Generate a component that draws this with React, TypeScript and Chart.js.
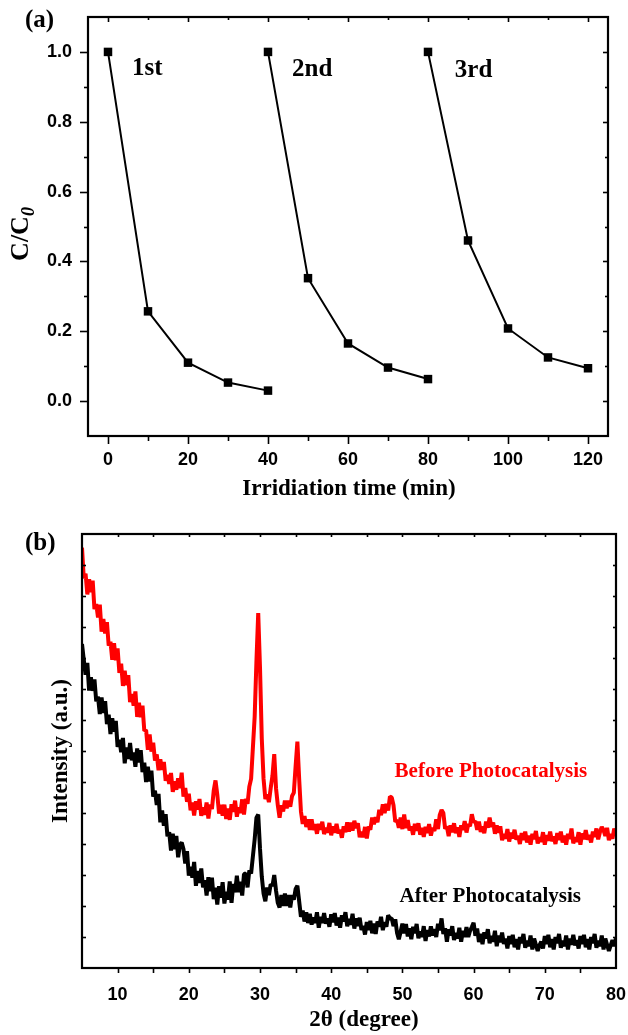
import React, { useEffect, useRef } from "react";
import { Chart, registerables } from "chart.js";
Chart.register(...registerables);

// ---------- Panel (a): photocatalytic cycles ----------
const cycleTime1 = [0, 10, 20, 30, 40];
const cycleValues1 = [1.0, 0.257, 0.11, 0.053, 0.03];
const cycleTime2 = [40, 50, 60, 70, 80];
const cycleValues2 = [1.0, 0.352, 0.165, 0.096, 0.063];
const cycleTime3 = [80, 90, 100, 110, 120];
const cycleValues3 = [1.0, 0.46, 0.208, 0.125, 0.094];
const cycleLabels = ["1st", "2nd", "3rd"];
const cycleLabelX = [6.0, 46.0, 86.7];
const cycleLabelY = [0.935, 0.93, 0.928];
const xTicksA = [0, 20, 40, 60, 80, 100, 120];
const yTicksA = [0, 0.2, 0.4, 0.6, 0.8, 1.0];

// ---------- Panel (b): XRD patterns ----------
const twoTheta = [
  5, 5.25, 5.5, 5.75, 6, 6.25, 6.5, 6.75, 7, 7.25, 7.5, 7.75, 8, 8.25, 8.5, 8.75, 9, 9.25, 9.5, 9.75,
  10, 10.25, 10.5, 10.75, 11, 11.25, 11.5, 11.75, 12, 12.25, 12.5, 12.75, 13, 13.25, 13.5, 13.75, 14, 14.25, 14.5, 14.75,
  15, 15.25, 15.5, 15.75, 16, 16.25, 16.5, 16.75, 17, 17.25, 17.5, 17.75, 18, 18.25, 18.5, 18.75, 19, 19.25, 19.5, 19.75,
  20, 20.25, 20.5, 20.75, 21, 21.25, 21.5, 21.75, 22, 22.25, 22.5, 22.75, 23, 23.25, 23.5, 23.75, 24, 24.25, 24.5, 24.75,
  25, 25.25, 25.5, 25.75, 26, 26.25, 26.5, 26.75, 27, 27.25, 27.5, 27.75, 28, 28.25, 28.5, 28.75, 29, 29.25, 29.5, 29.75,
  30, 30.25, 30.5, 30.75, 31, 31.25, 31.5, 31.75, 32, 32.25, 32.5, 32.75, 33, 33.25, 33.5, 33.75, 34, 34.25, 34.5, 34.75,
  35, 35.25, 35.5, 35.75, 36, 36.25, 36.5, 36.75, 37, 37.25, 37.5, 37.75, 38, 38.25, 38.5, 38.75, 39, 39.25, 39.5, 39.75,
  40, 40.25, 40.5, 40.75, 41, 41.25, 41.5, 41.75, 42, 42.25, 42.5, 42.75, 43, 43.25, 43.5, 43.75, 44, 44.25, 44.5, 44.75,
  45, 45.25, 45.5, 45.75, 46, 46.25, 46.5, 46.75, 47, 47.25, 47.5, 47.75, 48, 48.25, 48.5, 48.75, 49, 49.25, 49.5, 49.75,
  50, 50.25, 50.5, 50.75, 51, 51.25, 51.5, 51.75, 52, 52.25, 52.5, 52.75, 53, 53.25, 53.5, 53.75, 54, 54.25, 54.5, 54.75,
  55, 55.25, 55.5, 55.75, 56, 56.25, 56.5, 56.75, 57, 57.25, 57.5, 57.75, 58, 58.25, 58.5, 58.75, 59, 59.25, 59.5, 59.75,
  60, 60.25, 60.5, 60.75, 61, 61.25, 61.5, 61.75, 62, 62.25, 62.5, 62.75, 63, 63.25, 63.5, 63.75, 64, 64.25, 64.5, 64.75,
  65, 65.25, 65.5, 65.75, 66, 66.25, 66.5, 66.75, 67, 67.25, 67.5, 67.75, 68, 68.25, 68.5, 68.75, 69, 69.25, 69.5, 69.75,
  70, 70.25, 70.5, 70.75, 71, 71.25, 71.5, 71.75, 72, 72.25, 72.5, 72.75, 73, 73.25, 73.5, 73.75, 74, 74.25, 74.5, 74.75,
  75, 75.25, 75.5, 75.75, 76, 76.25, 76.5, 76.75, 77, 77.25, 77.5, 77.75, 78, 78.25, 78.5, 78.75, 79, 79.25, 79.5, 79.75,
  80,
];
const beforeIntensity = [
  13.56, 12.57, 12.72, 12.05, 12.54, 12.12, 12.5, 11.58, 11.74, 11.31, 11.72, 10.85, 11.26, 10.79, 11.16, 10.4, 10.53, 9.94, 10.48, 9.93,
  10.31, 9.52, 9.82, 9.1, 9.59, 9.12, 9.45, 8.58, 8.84, 8.46, 8.92, 8.1, 8.56, 8.09, 8.46, 7.65, 7.68, 7.04, 7.53, 6.98,
  7.27, 6.69, 6.89, 6.38, 6.73, 6.39, 6.65, 6.04, 6.23, 5.94, 6.29, 5.68, 6.02, 5.75, 6.12, 5.8, 6.3, 5.53, 5.81, 5.36,
  5.62, 5.09, 5.34, 4.92, 5.38, 5.11, 5.45, 4.91, 5.18, 4.94, 5.34, 4.82, 5.27, 5.13, 5.72, 6.05, 5.6, 4.98, 5.26, 4.91,
  5.27, 4.81, 5.14, 4.78, 5.28, 5.04, 5.4, 4.88, 5.18, 5.0, 5.44, 4.95, 5.45, 5.3, 5.85, 6.1, 7.1, 8.1, 9.9, 11.45,
  9.7, 7.4, 6.1, 5.45, 5.6, 5.35, 5.8, 6.2, 6.9, 5.8, 5.25, 4.85, 5.25, 5.05, 5.4, 5.15, 5.4, 5.2, 5.55, 5.65,
  6.5, 7.3, 6.1, 5.05, 4.65, 4.9, 4.55, 4.8, 4.45, 4.8, 4.45, 4.64, 4.33, 4.65, 4.46, 4.72, 4.32, 4.52, 4.37, 4.68,
  4.28, 4.57, 4.36, 4.65, 4.34, 4.46, 4.2, 4.57, 4.38, 4.7, 4.4, 4.69, 4.43, 4.75, 4.51, 4.67, 4.22, 4.39, 4.22, 4.55,
  4.18, 4.56, 4.46, 4.85, 4.64, 4.86, 4.7, 5.1, 4.93, 5.28, 5.0, 5.29, 5.08, 5.53, 5.5, 5.25, 4.72, 4.77, 4.52, 4.85,
  4.48, 4.95, 4.51, 4.77, 4.44, 4.56, 4.3, 4.65, 4.43, 4.67, 4.3, 4.52, 4.23, 4.55, 4.36, 4.64, 4.27, 4.52, 4.42, 4.8,
  4.48, 4.94, 5.1, 5.0, 4.49, 4.56, 4.25, 4.6, 4.38, 4.67, 4.35, 4.54, 4.23, 4.6, 4.46, 4.74, 4.37, 4.64, 4.57, 4.96,
  4.7, 4.74, 4.46, 4.72, 4.39, 4.56, 4.35, 4.72, 4.53, 4.85, 4.55, 4.69, 4.33, 4.6, 4.36, 4.57, 4.12, 4.32, 4.17, 4.48,
  4.08, 4.37, 4.18, 4.46, 4.14, 4.26, 4.0, 4.35, 4.13, 4.4, 4.05, 4.27, 3.98, 4.33, 4.16, 4.42, 4.02, 4.22, 4.07, 4.38,
  3.98, 4.29, 4.11, 4.4, 4.09, 4.24, 4.0, 4.35, 4.13, 4.4, 4.05, 4.27, 3.98, 4.33, 4.16, 4.5, 4.02, 4.22, 4.07, 4.38,
  3.98, 4.34, 4.16, 4.45, 4.14, 4.29, 4.05, 4.4, 4.23, 4.5, 4.15, 4.39, 4.55, 4.45, 4.26, 4.52, 4.12, 4.32, 4.17, 4.5,
  4.3,
];
const afterIntensity = [
  10.45, 9.94, 9.46, 9.84, 8.95, 9.38, 8.94, 9.31, 8.6, 8.75, 8.19, 8.73, 8.23, 8.61, 7.87, 8.17, 7.55, 8.06, 7.62, 7.97,
  7.13, 7.36, 6.96, 7.42, 6.6, 7.11, 6.74, 7.26, 6.7, 6.95, 6.49, 7.08, 6.63, 7.03, 6.32, 6.62, 6.0, 6.49, 6.02, 6.37,
  5.53, 5.72, 5.26, 5.62, 4.7, 5.08, 4.59, 4.96, 4.25, 4.38, 3.79, 4.33, 3.83, 4.26, 3.57, 3.97, 4.05, 3.84, 3.37, 3.77,
  2.98, 3.26, 2.91, 3.42, 2.65, 3.13, 2.74, 3.21, 2.6, 2.83, 2.34, 2.93, 2.48, 2.91, 2.22, 2.59, 2.05, 2.64, 2.27, 2.77,
  2.08, 2.46, 2.21, 2.79, 2.1, 2.71, 2.44, 2.98, 2.45, 2.78, 2.34, 3.03, 3.05, 2.6, 3.15, 3.05, 3.6, 4.15, 4.85, 4.95,
  3.85, 2.95, 2.4, 2.15, 2.6, 2.35, 2.7, 2.65, 3.0, 2.5, 2.1, 1.95, 2.35, 2.0, 2.4, 2.0, 2.35, 1.95, 2.35, 2.2,
  2.55, 2.65, 2.15, 1.65, 1.85, 1.5, 1.8, 1.45, 1.75, 1.4, 1.63, 1.45, 1.8, 1.3, 1.65, 1.45, 1.77, 1.43, 1.6, 1.33,
  1.73, 1.47, 1.77, 1.37, 1.63, 1.3, 1.7, 1.5, 1.8, 1.35, 1.58, 1.4, 1.75, 1.27, 1.6, 1.35, 1.62, 1.23, 1.35, 1.08,
  1.48, 1.22, 1.52, 1.12, 1.43, 1.1, 1.5, 1.33, 1.65, 1.22, 1.48, 1.33, 1.7, 1.6, 1.6, 1.35, 1.57, 1.13, 0.93, 1.17,
  1.43, 1.12, 1.42, 1.02, 1.28, 0.93, 1.33, 1.12, 1.42, 0.96, 1.18, 1.0, 1.35, 0.87, 1.22, 1.02, 1.34, 1.05, 1.25, 1.0,
  1.43, 1.22, 1.6, 1.1, 1.28, 0.85, 1.25, 1.05, 1.35, 0.9, 1.13, 0.95, 1.3, 0.85, 1.2, 1.0, 1.32, 1.0, 1.2, 1.32,
  1.46, 1.04, 1.27, 0.84, 1.1, 0.77, 1.15, 0.95, 1.25, 0.8, 1.03, 0.85, 1.2, 0.7, 1.05, 0.83, 1.14, 0.78, 0.95, 0.63,
  1.03, 0.77, 1.07, 0.67, 0.93, 0.6, 1.0, 0.8, 1.1, 0.65, 0.88, 0.7, 1.05, 0.6, 0.95, 0.75, 0.55, 0.73, 0.85, 0.63,
  1.03, 0.77, 1.07, 0.67, 0.93, 0.6, 1.0, 0.8, 1.1, 0.65, 0.88, 0.7, 1.05, 0.6, 0.95, 0.75, 1.07, 0.73, 0.9, 0.63,
  1.03, 0.77, 1.07, 0.67, 0.93, 0.6, 1.0, 0.8, 1.1, 0.65, 0.88, 0.7, 1.05, 0.6, 0.95, 0.75, 0.55, 0.73, 0.9, 0.7,
  0.95,
];
const xTicksB = [10, 20, 30, 40, 50, 60, 70, 80];
const seriesLabelsB = ["Before Photocatalysis", "After Photocatalysis"];
const seriesLabelPosB = [
  [48.9, 6.35],
  [49.6, 2.29],
];

const SERIF = '"Liberation Serif", "Times New Roman", serif';
const SANS = '"Liberation Sans", Arial, sans-serif';

type FrameOpts = {
  xMinorStep: number;
  yMinorStep: number;
  xMajor: number[];
  yMajorStep: number;
  bottomMajor: number;
  bottomMinor: number;
  leftMajor: number;
  leftMinor: number;
  leftInward: boolean;
  inMajor: number;
  inMinor: number;
};

function drawFrame(chart: any, o: FrameOpts) {
  const { ctx, chartArea: a, scales } = chart;
  const xs = scales.x;
  const ys = scales.y;
  ctx.save();
  ctx.strokeStyle = "#000";
  ctx.lineWidth = 1.6;
  const seg = (x1: number, y1: number, x2: number, y2: number) => {
    ctx.beginPath();
    ctx.moveTo(x1, y1);
    ctx.lineTo(x2, y2);
    ctx.stroke();
  };
  const isMajorX = (v: number) => o.xMajor.some((m) => Math.abs(m - v) < 1e-6);
  for (let v = Math.ceil(xs.min / o.xMinorStep) * o.xMinorStep; v <= xs.max + 1e-6; v += o.xMinorStep) {
    const p = Math.round(xs.getPixelForValue(v)) + 0.5;
    if (p <= a.left + 1 || p >= a.right - 1) continue;
    const maj = isMajorX(v);
    seg(p, a.bottom, p, a.bottom + (maj ? o.bottomMajor : o.bottomMinor));
    seg(p, a.top, p, a.top + (maj ? o.inMajor : o.inMinor));
  }
  for (let v = Math.ceil(ys.min / o.yMinorStep) * o.yMinorStep; v <= ys.max + 1e-6; v += o.yMinorStep) {
    const p = Math.round(ys.getPixelForValue(v)) + 0.5;
    if (p <= a.top + 1 || p >= a.bottom - 1) continue;
    const r = v / o.yMajorStep;
    const maj = Math.abs(r - Math.round(r)) < 1e-6;
    const L = maj ? o.leftMajor : o.leftMinor;
    if (o.leftInward) seg(a.left, p, a.left + L, p);
    else seg(a.left, p, a.left - L, p);
    seg(a.right, p, a.right - (maj ? o.inMajor : o.inMinor), p);
  }
  ctx.lineWidth = 2.2;
  ctx.strokeRect(a.left, a.top, a.right - a.left, a.bottom - a.top);
  ctx.restore();
}

const zeroPad = (sc: any) => {
  sc.paddingLeft = 0;
  sc.paddingRight = 0;
  sc.paddingTop = 0;
  sc.paddingBottom = 0;
};

function PanelA() {
  const ref = useRef<HTMLCanvasElement | null>(null);
  useEffect(() => {
    if (!ref.current) return;
    const mk = (xsArr: number[], ysArr: number[]) => xsArr.map((x, i) => ({ x, y: ysArr[i] }));
    const ds = (data: any) => ({
      data,
      borderColor: "#000",
      backgroundColor: "#000",
      borderWidth: 2,
      pointStyle: "rect",
      pointRadius: 6,
      pointBorderWidth: 0,
      tension: 0,
    });
    const plugin = {
      id: "decorA",
      afterDraw(chart: any) {
        drawFrame(chart, {
          xMinorStep: 10,
          yMinorStep: 0.1,
          xMajor: xTicksA,
          yMajorStep: 0.2,
          bottomMajor: 8,
          bottomMinor: 5,
          leftMajor: 8,
          leftMinor: 4,
          leftInward: false,
          inMajor: 5,
          inMinor: 3,
        });
        const { ctx, scales } = chart;
        ctx.save();
        ctx.fillStyle = "#000";
        ctx.textBaseline = "alphabetic";
        ctx.font = `bold 25px ${SERIF}`;
        ctx.textAlign = "left";
        cycleLabels.forEach((t, i) => {
          ctx.fillText(t, scales.x.getPixelForValue(cycleLabelX[i]), scales.y.getPixelForValue(cycleLabelY[i]));
        });
        ctx.fillText("(a)", 25, 27);
        ctx.font = `bold 23px ${SERIF}`;
        ctx.textAlign = "center";
        ctx.fillText("Irridiation time (min)", 349, 495);
        ctx.translate(28, 234);
        ctx.rotate(-Math.PI / 2);
        ctx.textAlign = "left";
        ctx.font = `bold 26px ${SERIF}`;
        const w1 = ctx.measureText("C/C").width;
        ctx.font = `italic bold 18px ${SERIF}`;
        const w2 = ctx.measureText("0").width;
        const s = -(w1 + w2) / 2;
        ctx.font = `bold 26px ${SERIF}`;
        ctx.fillText("C/C", s, 0);
        ctx.font = `italic bold 18px ${SERIF}`;
        ctx.fillText("0", s + w1, 6);
        ctx.restore();
      },
    };
    const chart = new Chart(ref.current, {
      type: "line",
      data: {
        datasets: [ds(mk(cycleTime1, cycleValues1)), ds(mk(cycleTime2, cycleValues2)), ds(mk(cycleTime3, cycleValues3))],
      },
      options: {
        responsive: false,
        animation: false,
        devicePixelRatio: 1,
        layout: { padding: { top: 17, right: 20, left: 0, bottom: 0 } },
        plugins: { legend: { display: false }, tooltip: { enabled: false } },
        scales: {
          x: {
            type: "linear",
            min: -5,
            max: 125,
            grid: { display: false },
            border: { display: false },
            afterBuildTicks: (sc: any) => {
              sc.ticks = xTicksA.map((v) => ({ value: v }));
            },
            afterFit: (sc: any) => {
              sc.height = 74;
              zeroPad(sc);
            },
            ticks: { color: "#000", font: { family: SANS, weight: "bold", size: 18 }, padding: 5, maxRotation: 0 },
          },
          y: {
            type: "linear",
            min: -0.1,
            max: 1.1,
            grid: { display: false },
            border: { display: false },
            afterBuildTicks: (sc: any) => {
              sc.ticks = yTicksA.map((v) => ({ value: v }));
            },
            afterFit: (sc: any) => {
              sc.width = 88;
              zeroPad(sc);
            },
            ticks: {
              color: "#000",
              font: { family: SANS, weight: "bold", size: 18 },
              padding: 8,
              callback: (v: any) => Number(v).toFixed(1),
            },
          },
        },
      } as any,
      plugins: [plugin],
    });
    return () => chart.destroy();
  }, []);
  return <canvas ref={ref} width={628} height={510} style={{ display: "block", width: 628, height: 510 }} />;
}

function PanelB() {
  const ref = useRef<HTMLCanvasElement | null>(null);
  useEffect(() => {
    if (!ref.current) return;
    const plugin = {
      id: "decorB",
      afterDraw(chart: any) {
        drawFrame(chart, {
          xMinorStep: 5,
          yMinorStep: 1,
          xMajor: [5, 10, 15, 20, 25, 30, 35, 40, 45, 50, 55, 60, 65, 70, 75, 80],
          yMajorStep: 1,
          bottomMajor: 5,
          bottomMinor: 5,
          leftMajor: 4,
          leftMinor: 4,
          leftInward: true,
          inMajor: 3,
          inMinor: 3,
        });
        const { ctx, scales } = chart;
        ctx.save();
        ctx.fillStyle = "#000";
        ctx.textBaseline = "alphabetic";
        ctx.font = `bold 25px ${SERIF}`;
        ctx.textAlign = "left";
        ctx.fillText("(b)", 25, 40);
        ctx.font = `bold 23px ${SERIF}`;
        ctx.textAlign = "center";
        ctx.fillText("2θ (degree)", 364, 516);
        ctx.font = `bold 21px ${SERIF}`;
        ctx.textAlign = "left";
        ctx.textBaseline = "middle";
        ctx.fillStyle = "#ff0000";
        ctx.fillText(seriesLabelsB[0], scales.x.getPixelForValue(seriesLabelPosB[0][0]), scales.y.getPixelForValue(seriesLabelPosB[0][1]));
        ctx.fillStyle = "#000";
        ctx.fillText(seriesLabelsB[1], scales.x.getPixelForValue(seriesLabelPosB[1][0]), scales.y.getPixelForValue(seriesLabelPosB[1][1]));
        ctx.textBaseline = "alphabetic";
        ctx.translate(67, 241);
        ctx.rotate(-Math.PI / 2);
        ctx.textAlign = "center";
        ctx.font = `bold 23px ${SERIF}`;
        ctx.fillText("Intensity (a.u.)", 0, 0);
        ctx.restore();
      },
    };
    const chart = new Chart(ref.current, {
      type: "line",
      data: {
        datasets: [
          {
            data: twoTheta.map((x, i) => ({ x, y: beforeIntensity[i] })),
            borderColor: "#ff0000",
            borderWidth: 4,
            borderJoinStyle: "bevel",
            pointRadius: 0,
            tension: 0,
          },
          {
            data: twoTheta.map((x, i) => ({ x, y: afterIntensity[i] })),
            borderColor: "#000000",
            borderWidth: 4,
            borderJoinStyle: "bevel",
            pointRadius: 0,
            tension: 0,
          },
        ],
      },
      options: {
        responsive: false,
        animation: false,
        devicePixelRatio: 1,
        layout: { padding: { top: 24, right: 12, left: 0, bottom: 0 } },
        plugins: { legend: { display: false }, tooltip: { enabled: false } },
        scales: {
          x: {
            type: "linear",
            min: 5,
            max: 80,
            grid: { display: false },
            border: { display: false },
            afterBuildTicks: (sc: any) => {
              sc.ticks = xTicksB.map((v) => ({ value: v }));
            },
            afterFit: (sc: any) => {
              sc.height = 67;
              zeroPad(sc);
            },
            ticks: { color: "#000", font: { family: SANS, weight: "bold", size: 18 }, padding: 8, maxRotation: 0 },
          },
          y: {
            type: "linear",
            min: 0,
            max: 14,
            grid: { display: false },
            border: { display: false },
            ticks: { display: false },
            afterFit: (sc: any) => {
              sc.width = 82;
              zeroPad(sc);
            },
          },
        },
      } as any,
      plugins: [plugin],
    });
    return () => chart.destroy();
  }, []);
  return <canvas ref={ref} width={628} height={525} style={{ display: "block", width: 628, height: 525 }} />;
}

export default function App() {
  return (
    <div style={{ position: "absolute", left: 0, top: 0, width: 628, height: 1035, background: "#fff" }}>
      <PanelA />
      <PanelB />
    </div>
  );
}
